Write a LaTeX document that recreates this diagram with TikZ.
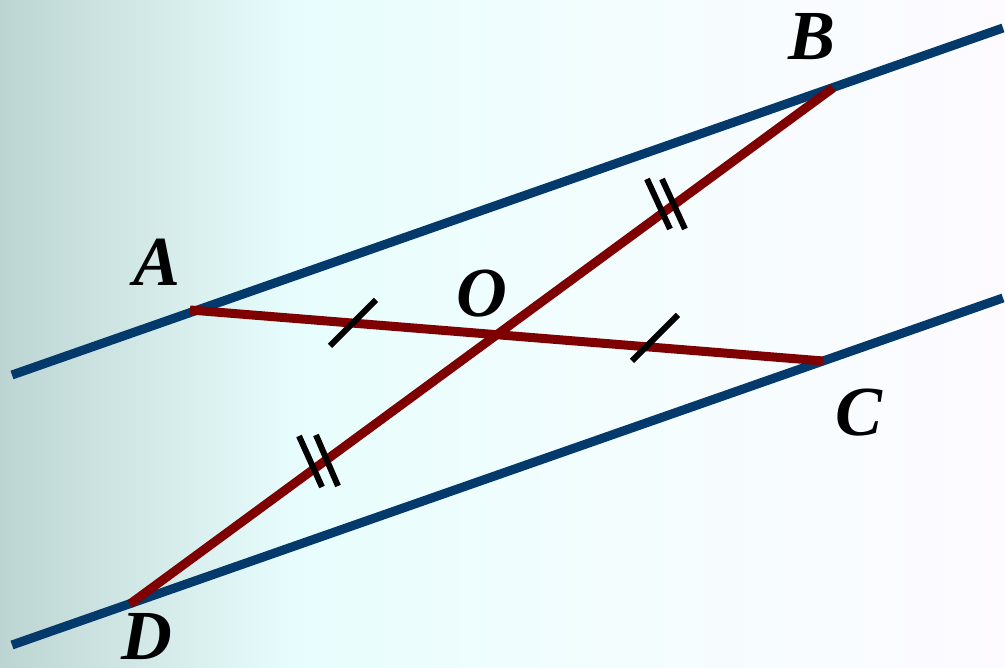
\documentclass[tikz,border=0pt]{standalone}
\usepackage{fontspec}
\setmainfont{Liberation Serif}
\definecolor{bgA}{HTML}{BDD5D2}
\definecolor{bgB}{HTML}{E7FDFD}
\definecolor{bgC}{HTML}{F3FDFE}
\definecolor{bgD}{HTML}{FDFBFF}
\definecolor{navy}{HTML}{033A6B}
\definecolor{maroon}{HTML}{7F0000}
\pgfdeclarehorizontalshading{bgshade}{100bp}{color(0bp)=(bgA); color(25bp)=(bgA); color(39.5bp)=(bgB); color(55bp)=(bgC); color(75bp)=(bgD); color(100bp)=(bgD)}
\tikzset{
  parline/.style={navy, line width=0.09cm},
  segline/.style={maroon, line width=0.09cm},
  tickline/.style={black, line width=0.06cm},
  ptlabel/.style={anchor=base, inner sep=0pt, font=\fontsize{20}{24}\selectfont\bfseries\itshape}
}
\begin{document}
\begin{tikzpicture}[x=0.01cm,y=-0.01cm]
\useasboundingbox (0,0) rectangle (1005,668);
\shade[shading=bgshade] (0,0) rectangle (1005,668);
% parallel lines
\coordinate (U1) at (12,375);
\coordinate (U2) at (1003,28);
\coordinate (L1) at (12,645);
\coordinate (L2) at (1003,298);
\draw[parline] (U1) -- (U2);
\draw[parline] (L1) -- (L2);
% points
\coordinate (A) at (190,310);
\coordinate (B) at (833,88);
\coordinate (C) at (823,361);
\coordinate (D) at (130,604);
\draw[segline] (A) -- (C);
\draw[segline] (B) -- (D);
% single ticks
\coordinate (t1a) at (330,346);
\coordinate (t1b) at (376,300);
\coordinate (t2a) at (632,361);
\coordinate (t2b) at (678,315);
\draw[tickline] (t1a) -- (t1b);
\draw[tickline] (t2a) -- (t2b);
% double ticks on OB
\coordinate (d1a) at (647,179);
\coordinate (d1b) at (670,229);
\coordinate (d2a) at (662,179);
\coordinate (d2b) at (685,229);
\draw[tickline] (d1a) -- (d1b);
\draw[tickline] (d2a) -- (d2b);
% double ticks on DO
\coordinate (e1a) at (299,436);
\coordinate (e1b) at (322,487);
\coordinate (e2a) at (316,435);
\coordinate (e2b) at (338,486);
\draw[tickline] (e1a) -- (e1b);
\draw[tickline] (e2a) -- (e2b);
% labels
\node[ptlabel] (lA) at (157,286) {A};
\node[ptlabel] (lB) at (812,60) {B};
\node[ptlabel] (lO) at (482,317) {O};
\node[ptlabel] (lC) at (859,436) {C};
\node[ptlabel] (lD) at (147,660) {D};
\end{tikzpicture}
\end{document}
